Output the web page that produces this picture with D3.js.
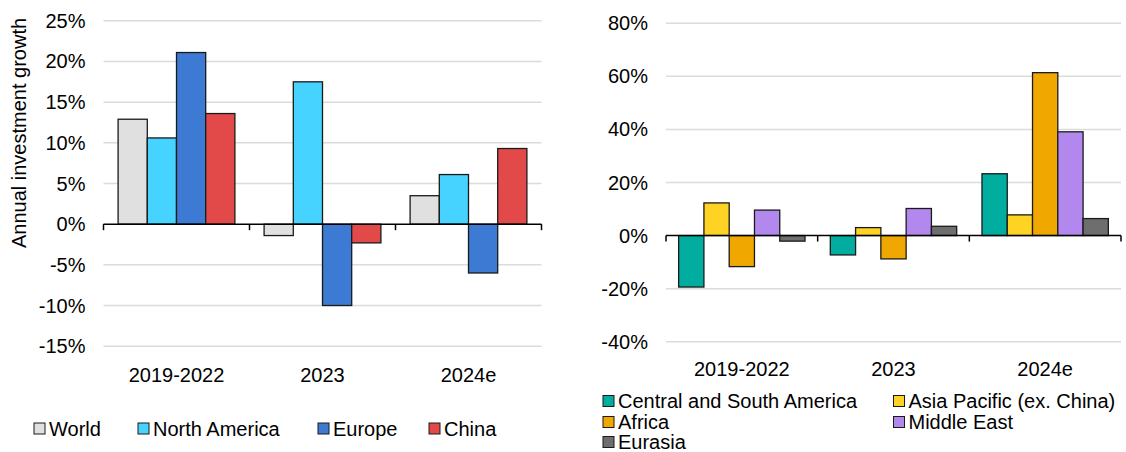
<!DOCTYPE html>
<html>
<head>
<meta charset="utf-8">
<script src="https://cdn.jsdelivr.net/npm/d3@7"></script>
<style>
  html, body { margin: 0; padding: 0; background: #fff; }
  svg text { font-family: "Liberation Sans", Arial, sans-serif; fill: #000; }
</style>
</head>
<body>
<svg id="chart" width="1126" height="452"></svg>
<script>
// ---------- Data ----------
const categories = ["2019-2022", "2023", "2024e"];

const leftSeries = ["World", "North America", "Europe", "China"];
const leftColors = ["#e0e0e0", "#47d3ff", "#3d7ad4", "#e24a4a"];
const worldValues = [12.9, -1.4, 3.5];
const northAmericaValues = [10.6, 17.5, 6.1];
const europeValues = [21.1, -10.0, -6.0];
const chinaValues = [13.6, -2.3, 9.3];
const leftTicks = [-15, -10, -5, 0, 5, 10, 15, 20, 25];

const rightSeries = ["Central and South America", "Asia Pacific (ex. China)", "Africa", "Middle East", "Eurasia"];
const rightColors = ["#00ad9f", "#ffd324", "#f0a800", "#b388ee", "#6e6e6e"];
const csaValues = [-19.4, -7.3, 23.3];
const asiaPacificValues = [12.3, 3.0, 7.8];
const africaValues = [-11.7, -8.8, 61.4];
const middleEastValues = [9.6, 10.2, 39.1];
const eurasiaValues = [-2.1, 3.5, 6.4];
const rightTicks = [-40, -20, 0, 20, 40, 60, 80];

const leftData = [worldValues, northAmericaValues, europeValues, chinaValues];
const rightData = [csaValues, asiaPacificValues, africaValues, middleEastValues, eurasiaValues];

const svg = d3.select("#chart");
const FS = 20;

function drawPanel(opts) {
  const { x0, x1, yDomain, yRange, ticks, series, colors, data, labelY } = opts;
  const g = svg.append("g");
  const x = d3.scaleBand().domain(categories).range([x0, x1]).paddingInner(0).paddingOuter(0);
  const y = d3.scaleLinear().domain(yDomain).range(yRange);
  const inner = d3.scaleBand().domain(series)
    .range([0, x.bandwidth()]).paddingInner(0).paddingOuter(0.5);

  // gridlines
  g.append("g").selectAll("line").data(ticks.filter(t => t !== 0)).join("line")
    .attr("x1", x0).attr("x2", x1)
    .attr("y1", d => y(d)).attr("y2", d => y(d))
    .attr("stroke", "#dcdcdc").attr("stroke-width", 1.5);

  // y tick labels
  g.append("g").selectAll("text").data(ticks).join("text")
    .attr("x", x0 - 18).attr("y", d => y(d))
    .attr("dy", "0.35em")
    .attr("text-anchor", "end")
    .style("font-size", FS + "px")
    .text(d => d + "%");

  // bars
  series.forEach((s, si) => {
    g.append("g").selectAll("rect").data(data[si]).join("rect")
      .attr("x", (d, i) => x(categories[i]) + inner(s))
      .attr("width", inner.bandwidth())
      .attr("y", d => y(Math.max(0, d)))
      .attr("height", d => Math.abs(y(d) - y(0)))
      .attr("fill", colors[si])
      .attr("stroke", "#1a1a1a").attr("stroke-width", 1.3);
  });

  // x axis line with ticks at band boundaries
  g.append("line").attr("x1", x0).attr("x2", x1).attr("y1", y(0)).attr("y2", y(0))
    .attr("stroke", "#000").attr("stroke-width", 1.5);
  const bounds = categories.map(c => x(c)).concat([x1]);
  g.append("g").selectAll("line").data(bounds).join("line")
    .attr("x1", d => d).attr("x2", d => d)
    .attr("y1", y(0)).attr("y2", y(0) + 6)
    .attr("stroke", "#000").attr("stroke-width", 1.5);

  // category labels
  g.append("g").selectAll("text").data(categories).join("text")
    .attr("x", d => x(d) + x.bandwidth() / 2)
    .attr("y", labelY)
    .attr("text-anchor", "middle")
    .style("font-size", FS + "px")
    .text(d => d);
  return g;
}

drawPanel({
  x0: 103.5, x1: 541.5, yDomain: [-15, 25], yRange: [346.2, 20.8],
  ticks: leftTicks, series: leftSeries, colors: leftColors, data: leftData,
  labelY: 382
});

drawPanel({
  x0: 666, x1: 1121, yDomain: [-40, 80], yRange: [341.7, 23.3],
  ticks: rightTicks, series: rightSeries, colors: rightColors, data: rightData,
  labelY: 375.5
});

// y axis title (left)
svg.append("text")
  .attr("transform", "translate(26,133) rotate(-90)")
  .attr("text-anchor", "middle")
  .style("font-size", FS + "px")
  .text("Annual investment growth");

// left legend
const leftLegendX = [34, 138, 318, 429];
const lg = svg.append("g");
leftSeries.forEach((s, i) => {
  lg.append("rect").attr("x", leftLegendX[i]).attr("y", 423).attr("width", 11).attr("height", 11)
    .attr("fill", leftColors[i]).attr("stroke", "#1a1a1a").attr("stroke-width", 1);
  lg.append("text").attr("x", leftLegendX[i] + 15).attr("y", 428.5).attr("dy", "0.35em")
    .style("font-size", FS + "px").text(s);
});

// right legend
const rightLegendPos = [[603, 401], [893.5, 401], [603, 422], [893.5, 422], [603, 442]];
const rg = svg.append("g");
rightSeries.forEach((s, i) => {
  const [px, py] = rightLegendPos[i];
  rg.append("rect").attr("x", px).attr("y", py - 5.5).attr("width", 11).attr("height", 11)
    .attr("fill", rightColors[i]).attr("stroke", "#1a1a1a").attr("stroke-width", 1);
  rg.append("text").attr("x", px + 15).attr("y", py).attr("dy", "0.35em")
    .style("font-size", FS + "px").text(s);
});
</script>
</body>
</html>
